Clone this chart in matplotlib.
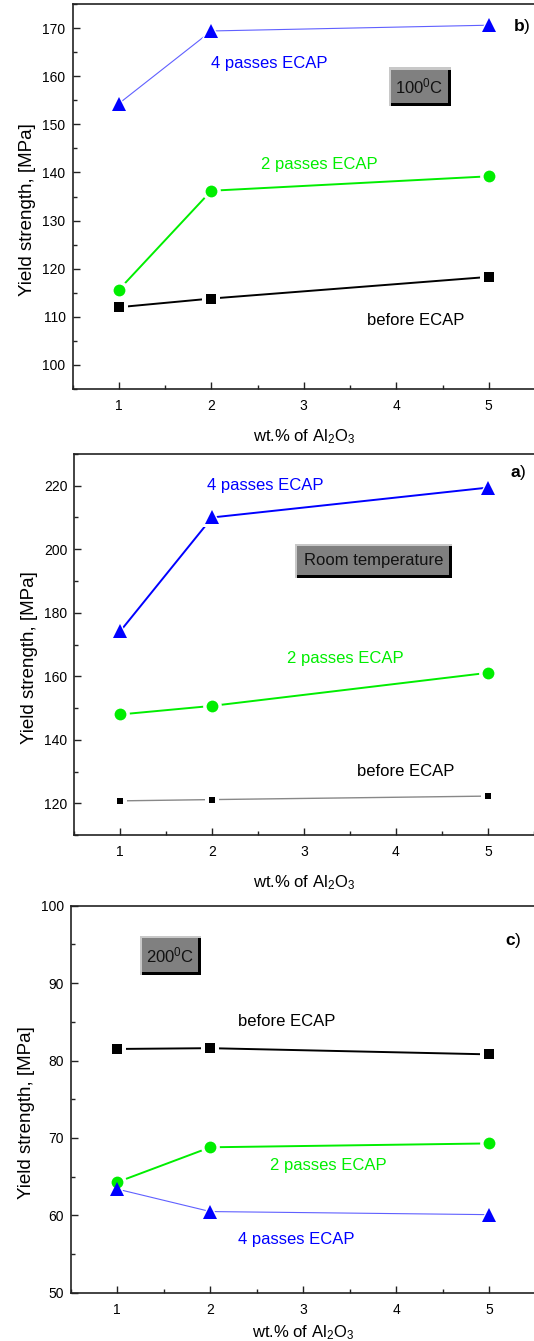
import matplotlib
matplotlib.use("Agg")
import matplotlib.pyplot as plt
from matplotlib.patches import Rectangle
from matplotlib.ticker import MultipleLocator

plt.rcParams['font.family'] = ['Liberation Sans', 'DejaVu Sans']
plt.rcParams['mathtext.fontset'] = 'custom'
plt.rcParams['mathtext.rm'] = 'Liberation Sans'
plt.rcParams['mathtext.it'] = 'Liberation Sans:italic'
plt.rcParams['mathtext.bf'] = 'Liberation Sans:bold'

# data: wt.% of Al2O3 vs yield strength [MPa]
wt = [1, 2, 5]

# b) 100 C
b_before = [112.0, 113.8, 118.3]
b_2pass = [115.6, 136.2, 139.2]
b_4pass = [154.3, 169.4, 170.6]

# a) room temperature
a_before = [120.8, 121.2, 122.3]
a_2pass = [148.0, 150.7, 161.1]
a_4pass = [174.2, 210.0, 219.4]

# c) 200 C
c_before = [81.5, 81.6, 80.8]
c_2pass = [64.3, 68.8, 69.3]
c_4pass = [63.4, 60.5, 60.1]

BLUE = '#0000ff'
LBLUE = '#6060ff'
GREEN = '#00ee00'

W, H = 534, 1341
fig = plt.figure(figsize=(W / 100, H / 100), dpi=100)


def make_axes(rect, ylim, major, minor):
    ax = fig.add_axes(rect)
    ax.set_xlim(0.5, 5.5)
    ax.set_ylim(*ylim)
    ax.xaxis.set_major_locator(MultipleLocator(1))
    ax.xaxis.set_minor_locator(MultipleLocator(0.5))
    ax.yaxis.set_major_locator(MultipleLocator(major))
    ax.yaxis.set_minor_locator(MultipleLocator(minor))
    ax.tick_params(which='both', direction='in', top=False, right=False,
                   width=1.0, labelsize=10, color='#222222')
    ax.tick_params(which='major', length=5)
    ax.tick_params(which='minor', length=3)
    ax.tick_params(axis='x', pad=7)
    ax.tick_params(axis='y', pad=5)
    for s in ['left', 'bottom', 'top']:
        ax.spines[s].set_linewidth(1.2)
        ax.spines[s].set_color('#222222')
    ax.spines['right'].set_visible(False)
    ax.set_ylabel('Yield strength, [MPa]', fontsize=13.5)
    ax.yaxis.set_label_coords(-0.078, 0.466)
    ax.set_xlabel('wt.% of Al$_2$O$_3$', fontsize=12)
    ax.xaxis.set_label_coords(0.5, -0.10)
    return ax


def series(ax, y, marker, color, ms, lw, lcolor=None):
    ax.plot(wt, y, '-', color=lcolor or color, lw=lw, zorder=2)
    ax.plot(wt, y, marker, color='white', ms=ms + 5, mew=0, zorder=3)
    ax.plot(wt, y, marker, color=color, ms=ms, mew=0, zorder=4)


def button(ax, x0, x1, y0, y1, text):
    pos = ax.get_position()
    wpx = pos.width * W
    hpx = pos.height * H
    lx, ly = 2.5 / wpx, 2.5 / hpx
    dx, dy = 3.0 / wpx, 3.0 / hpx
    kw = dict(transform=ax.transAxes, lw=0, zorder=5)
    ax.add_patch(Rectangle((x0, y0), x1 - x0, y1 - y0, fc='#c8c8c8', **kw))
    ax.add_patch(Rectangle((x0 + lx, y0), x1 - x0 - lx, y1 - y0 - ly, fc='black', **kw))
    ax.add_patch(Rectangle((x0 + lx, y0 + dy), x1 - x0 - lx - dx, y1 - y0 - ly - dy,
                           fc='#808080', **kw))
    ax.text((x0 + lx + x1 - dx) / 2, (y0 + dy + y1 - ly) / 2, text, transform=ax.transAxes,
            ha='center', va='center', fontsize=12, color='#111111', zorder=6)


# ---- b) 100 C ----
ax1 = make_axes([0.1358, 0.7099, 0.8661, 0.2871], (95, 175), 10, 5)
series(ax1, b_4pass, '^', BLUE, 10, 0.8, LBLUE)
series(ax1, b_2pass, 'o', GREEN, 8.5, 1.4)
series(ax1, b_before, 's', 'black', 7.5, 1.4)
ax1.text(2.0, 162.6, '4 passes ECAP', color=BLUE, fontsize=12, va='center')
ax1.text(2.54, 141.6, '2 passes ECAP', color=GREEN, fontsize=12, va='center')
ax1.text(3.68, 109.2, 'before ECAP', color='black', fontsize=12, va='center')
ax1.text(5.45, 170.4, r'$\mathbf{b}$)', fontsize=12.5, ha='right', va='center')
button(ax1, 0.684, 0.8175, 0.736, 0.836, '100$^0$C')

# ---- a) room temperature ----
ax2 = make_axes([0.1391, 0.3772, 0.8605, 0.2843], (110, 230), 20, 10)
series(ax2, a_4pass, '^', BLUE, 10, 1.4)
series(ax2, a_2pass, 'o', GREEN, 8.5, 1.4)
series(ax2, a_before, 's', 'black', 4.8, 1.0, '#888888')
ax2.text(1.94, 220.0, '4 passes ECAP', color=BLUE, fontsize=12, va='center')
ax2.text(2.81, 165.5, '2 passes ECAP', color=GREEN, fontsize=12, va='center')
ax2.text(3.58, 129.9, 'before ECAP', color='black', fontsize=12, va='center')
ax2.text(5.42, 224.0, r'$\mathbf{a}$)', fontsize=12.5, ha='right', va='center')
button(ax2, 0.480, 0.823, 0.675, 0.765, 'Room temperature')

# ---- c) 200 C ----
ax3 = make_axes([0.1326, 0.0359, 0.8708, 0.2887], (50, 100), 10, 5)
series(ax3, c_before, 's', 'black', 7.5, 1.4)
series(ax3, c_2pass, 'o', GREEN, 8.5, 1.4)
series(ax3, c_4pass, '^', BLUE, 10, 0.8, LBLUE)
ax3.text(2.30, 85.1, 'before ECAP', color='black', fontsize=12, va='center')
ax3.text(2.64, 66.4, '2 passes ECAP', color=GREEN, fontsize=12, va='center')
ax3.text(2.295, 56.9, '4 passes ECAP', color=BLUE, fontsize=12, va='center')
ax3.text(5.35, 95.5, r'$\mathbf{c}$)', fontsize=12.5, ha='right', va='center')
button(ax3, 0.148, 0.280, 0.821, 0.922, '200$^0$C')
# keep the last x label inside the canvas
ax3.xaxis.set_label_coords(0.5, -0.078)

fig.savefig('out.png', dpi=100)
